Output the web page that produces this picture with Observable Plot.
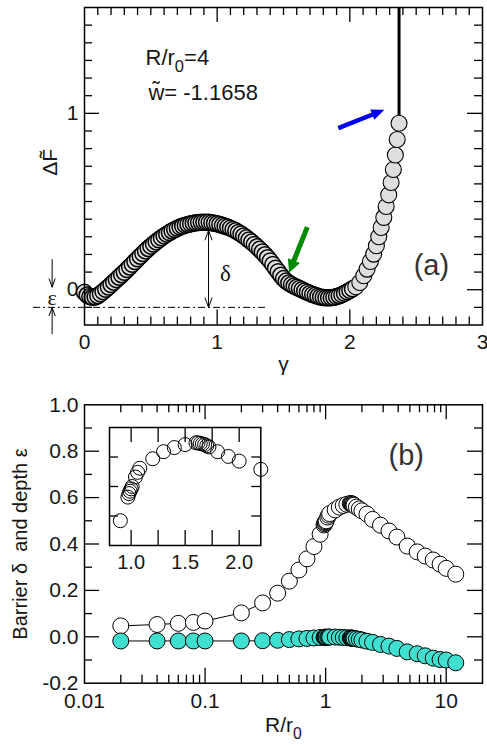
<!DOCTYPE html>
<html><head><meta charset="utf-8">
<script src="https://cdn.jsdelivr.net/npm/d3@7"></script>
<script src="https://cdn.jsdelivr.net/npm/@observablehq/plot@0.6"></script>
<style>
body{margin:0;background:#fff;}
#wrap{position:relative;width:487px;height:745px;overflow:hidden;}
#wrap > div{position:absolute;}
svg text{white-space:pre;}
</style></head><body>
<div id="wrap"><div id="panelA" style="left:0;top:0"></div><div id="panelB" style="left:0;top:375px"></div><div id="panelI" style="left:96.7px;top:422.3px"></div></div>
<script>
// ---------- panel (a): free energy profile ----------
const gammaA = [0.00,0.02,0.04,0.06,0.08,0.10,0.12,0.14,0.16,0.18,0.20,0.22,0.24,0.26,0.28,0.30,0.32,0.34,0.36,0.38,0.40,0.42,0.44,0.46,0.48,0.50,0.52,0.54,0.56,0.58,0.60,0.62,0.64,0.66,0.68,0.70,0.72,0.74,0.76,0.78,0.80,0.82,0.84,0.86,0.88,0.90,0.92,0.94,0.96,0.98,1.00,1.02,1.04,1.06,1.08,1.10,1.12,1.14,1.16,1.18,1.20,1.22,1.24,1.26,1.28,1.30,1.32,1.34,1.36,1.38,1.40,1.42,1.44,1.46,1.48,1.50,1.52,1.54,1.56,1.58,1.60,1.62,1.64,1.66,1.68,1.70,1.72,1.74,1.76,1.78,1.80,1.82,1.84,1.86,1.88,1.90,1.92,1.94,1.96,1.98,2.00,2.02,2.045,2.075,2.105,2.13,2.155,2.18,2.2,2.218,2.236,2.256,2.274,2.293,2.311,2.328,2.343,2.357,2.371];
const freeA = [-0.015,-0.030,-0.039,-0.043,-0.041,-0.034,-0.023,-0.011,0.002,0.015,0.029,0.043,0.057,0.071,0.085,0.099,0.114,0.129,0.144,0.160,0.175,0.190,0.205,0.220,0.234,0.247,0.259,0.271,0.283,0.294,0.305,0.315,0.324,0.333,0.341,0.348,0.355,0.361,0.366,0.370,0.374,0.377,0.379,0.381,0.382,0.383,0.383,0.382,0.380,0.377,0.374,0.370,0.365,0.360,0.355,0.349,0.342,0.334,0.325,0.316,0.305,0.294,0.282,0.270,0.257,0.243,0.229,0.214,0.198,0.181,0.163,0.143,0.122,0.102,0.082,0.063,0.049,0.038,0.029,0.021,0.014,0.007,0.000,-0.007,-0.014,-0.021,-0.027,-0.032,-0.037,-0.041,-0.044,-0.046,-0.046,-0.045,-0.043,-0.039,-0.034,-0.028,-0.020,-0.012,-0.004,0.005,0.017,0.041,0.079,0.117,0.160,0.202,0.249,0.300,0.353,0.410,0.472,0.538,0.608,0.682,0.764,0.852,0.944];
const topXLabels = [0,1,2,3];
const topYLabels = [0,1];
const topXMajor = [1,2];
const topXMinor = [0.1,0.2,0.3,0.4,0.5,0.6,0.7,0.8,0.9,1.1,1.2,1.3,1.4,1.5,1.6,1.7,1.8,1.9,2.1,2.2,2.3,2.4,2.5,2.6,2.7,2.8,2.9];
const topYMajor = [0,1];
const topYMinor = [-0.1,0.1,0.2,0.3,0.4,0.5,0.6,0.7,0.8,0.9,1.1,1.2,1.3,1.4,1.5];
const paramText = ["R/r₀=4", "w\u0303= -1.1658"];
const epsLevel = -0.1;            // dash-dot reference level
const dashSpan = [-0.384, 1.364];  // gamma extent of dash-dot line
const deltaX = 0.935, deltaTop = 0.336;
const epsX = -0.244;
const blueArrow = [[1.917,0.913],[2.264,1.017]];
const greenArrow = [[1.683,0.352],[1.546,0.094]];

// ---------- panel (b): barrier and depth vs R/r0 ----------
const ratioB = [0.02,0.04,0.06,0.08,0.1,0.2,0.3,0.4,0.5,0.6,0.7,0.8,0.9,0.97,0.98,0.99,1.0,1.01,1.04,1.06,1.08,1.2,1.3,1.4,1.5,1.6,1.62,1.64,1.66,1.68,1.70,1.72,1.8,1.9,2.0,2.2,2.45,2.85,3.35,3.9,4.75,5.75,6.7,7.8,8.9,10,12];
const barrierB = [0.047,0.053,0.058,0.062,0.068,0.103,0.146,0.188,0.240,0.288,0.336,0.389,0.442,0.482,0.488,0.492,0.496,0.500,0.516,0.524,0.531,0.547,0.559,0.566,0.571,0.574,0.574,0.573,0.572,0.571,0.569,0.567,0.559,0.551,0.543,0.529,0.506,0.481,0.456,0.430,0.391,0.366,0.348,0.331,0.313,0.295,0.270];
const depthB = [-0.018,-0.018,-0.018,-0.018,-0.018,-0.018,-0.017,-0.015,-0.012,-0.009,-0.007,-0.005,-0.003,-0.002,-0.002,-0.002,-0.002,-0.002,-0.002,-0.001,-0.001,-0.001,-0.002,-0.003,-0.004,-0.005,-0.005,-0.006,-0.006,-0.006,-0.007,-0.007,-0.009,-0.011,-0.014,-0.019,-0.024,-0.033,-0.040,-0.050,-0.065,-0.073,-0.082,-0.092,-0.098,-0.100,-0.112];
const botXLabels = [0.01,0.1,1,10];
const botYLabels = [-0.2,0,0.2,0.4,0.6,0.8,1.0];
const botXMajor = [0.1,1,10];
const botXMinor = [0.02,0.03,0.04,0.05,0.06,0.07,0.08,0.09,0.2,0.3,0.4,0.5,0.6,0.7,0.8,0.9,2,3,4,5,6,7,8,9];
const botYMajor = [0,0.2,0.4,0.6,0.8];
const botYMinor = [-0.1,0.1,0.3,0.5,0.7,0.9];
const insXLabels = [1.0,1.5,2.0];
const insXTicks = [1,1.25,1.5,1.75,2];
const insYTicks = [0.45,0.5,0.55];

const SANS = '"Liberation Sans", Arial, Helvetica, sans-serif';
const SERIF = '"Liberation Serif", "Times New Roman", serif';
const INK = "#161616";
const TICKFS = 21;

function boxTicks(xMaj, xMin, yMaj, yMin, fw, fh, maj, min, majY, minY, sw) {
  const o = {stroke: "black", strokeWidth: sw};
  return [
    Plot.ruleX(xMaj, {x: d => d, insetBottom: fh - maj, ...o}),
    Plot.ruleX(xMaj, {x: d => d, insetTop: fh - maj, ...o}),
    Plot.ruleX(xMin, {x: d => d, insetBottom: fh - min, ...o}),
    Plot.ruleX(xMin, {x: d => d, insetTop: fh - min, ...o}),
    Plot.ruleY(yMaj, {y: d => d, insetRight: fw - majY, ...o}),
    Plot.ruleY(yMaj, {y: d => d, insetLeft: fw - majY, ...o}),
    Plot.ruleY(yMin, {y: d => d, insetRight: fw - minY, ...o}),
    Plot.ruleY(yMin, {y: d => d, insetLeft: fw - minY, ...o})
  ];
}

function subscriptify(svg) {
  const ns = "http://www.w3.org/2000/svg";
  svg.querySelectorAll("text").forEach(t => {
    if (t.children.length) return;
    const s = t.textContent;
    if (!s.includes("₀")) return;
    const fs = parseFloat(getComputedStyle(t).fontSize) || 20;
    const parts = s.split("₀");
    t.textContent = "";
    const shift = fs * 0.3;
    parts.forEach((p, i) => {
      if (i > 0) {
        const sub = document.createElementNS(ns, "tspan");
        sub.textContent = "0";
        sub.setAttribute("dy", shift);
        sub.setAttribute("font-size", fs * 0.75);
        t.appendChild(sub);
      }
      if (p) {
        const a = document.createElementNS(ns, "tspan");
        a.textContent = p;
        if (i > 0) a.setAttribute("dy", -shift);
        t.appendChild(a);
      }
    });
  });
}

function fatArrow(svg, seg, color, w, len, wid) {
  const sx = svg.scale("x"), sy = svg.scale("y");
  const x1 = sx.apply(seg[0][0]), y1 = sy.apply(seg[0][1]);
  const x2 = sx.apply(seg[1][0]), y2 = sy.apply(seg[1][1]);
  const dx = x2 - x1, dy = y2 - y1, L = Math.hypot(dx, dy);
  const ux = dx / L, uy = dy / L, px = -uy, py = ux;
  const bx = x2 - ux * len, by = y2 - uy * len;
  const g = d3.select(svg).append("g");
  g.append("line").attr("x1", x1).attr("y1", y1).attr("x2", bx + ux).attr("y2", by + uy)
    .attr("stroke", color).attr("stroke-width", w);
  g.append("path").attr("d", `M${x2},${y2}L${bx + px * wid / 2},${by + py * wid / 2}L${bx - px * wid / 2},${by - py * wid / 2}Z`)
    .attr("fill", color);
}

// ---------- build panel (a) ----------
const topData = gammaA.map((g, i) => ({g, F: freeA[i]}));
const lastPt = topData[topData.length - 1];
const TW = 487, TH = 375, TML = 84, TMR = 5, TMT = 7, TMB = 50.5;
const tfw = TW - TML - TMR, tfh = TH - TMT - TMB;
const deltaMid = (deltaTop + epsLevel) / 2;

const plotA = Plot.plot({
  width: TW, height: TH, marginLeft: TML, marginRight: TMR, marginTop: TMT, marginBottom: TMB,
  x: {domain: [0, 3], axis: null}, y: {domain: [-0.2, 1.6], axis: null},
  style: {fontFamily: SANS, fontSize: "20px", background: "transparent", overflow: "visible", color: INK},
  marks: [
    ...boxTicks(topXMajor, topXMinor, topYMajor, topYMinor, tfw, tfh, 15, 8, 15, 8, 1.3),
    Plot.axisX({ticks: topXLabels, tickSize: 0, tickPadding: 9, label: null, fontSize: TICKFS, tickFormat: d => String(d)}),
    Plot.axisY({ticks: topYLabels, tickSize: 0, tickPadding: 6, label: null, fontSize: TICKFS, tickFormat: d => String(d)}),
    Plot.ruleY([epsLevel], {x1: dashSpan[0], x2: dashSpan[1], stroke: "black", strokeWidth: 1, strokeDasharray: "7,3,2,3"}),
    Plot.arrow([{y1: deltaMid, y2: deltaTop}, {y1: deltaMid, y2: epsLevel}], {x1: deltaX, x2: deltaX, y1: "y1", y2: "y2", stroke: "black", strokeWidth: 1, headAngle: 40, headLength: 15}),
    Plot.arrow([{y1: 0.17, y2: 0.015}, {y1: -0.25, y2: -0.101}], {x1: epsX, x2: epsX, y1: "y1", y2: "y2", stroke: "black", strokeWidth: 1, headAngle: 40, headLength: 13}),
    Plot.ruleX([lastPt], {x: "g", y1: "F", y2: 1.6, stroke: "black", strokeWidth: 3}),
    Plot.dot(topData, {x: "g", y: "F", r: 8, fill: "#dedede", stroke: "black", strokeWidth: d => d.g <= 2.03 ? 1.5 : 1.1}),
    Plot.frame({stroke: "black", strokeWidth: 1.5}),
    Plot.text([paramText[0]], {x: 0.46, y: 1.272, textAnchor: "start", lineAnchor: "bottom", fontSize: 22}),
    Plot.text([paramText[1]], {x: 0.482, y: 1.073, textAnchor: "start", lineAnchor: "bottom", fontSize: 22}),
    Plot.text(["(a)"], {x: 2.615, y: 0.138, lineAnchor: "middle", fontSize: 29, fill: "#333"}),
    Plot.text(["δ"], {x: 1.063, y: 0.092, lineAnchor: "middle", fontSize: 23, fontFamily: SERIF}),
    Plot.text(["ε"], {x: epsX, y: -0.048, lineAnchor: "middle", fontSize: 22, fontFamily: SERIF}),
    Plot.text(["γ"], {x: 1.5, y: -0.2, dy: 39.5, lineAnchor: "middle", fontSize: 21}),
    Plot.text(["ΔF\u0303"], {frameAnchor: "left", textAnchor: "middle", rotate: -90, dx: -27.3, dy: -4, lineAnchor: "bottom", fontSize: 21})
  ]
});
fatArrow(plotA, blueArrow, "#0000f0", 4.5, 13, 11);
fatArrow(plotA, greenArrow, "#008a00", 5, 13, 13);
document.getElementById("panelA").appendChild(plotA);
subscriptify(plotA);

// ---------- build panel (b) ----------
const barrier = ratioB.map((R, i) => ({R, v: barrierB[i]}));
const depth = ratioB.map((R, i) => ({R, v: depthB[i]}));
const BW = 487, BH = 370, BML = 84, BMR = 5, BMT = 29.3, BMB = 62.3;
const bfw = BW - BML - BMR, bfh = BH - BMT - BMB;
const plotB = Plot.plot({
  width: BW, height: BH, marginLeft: BML, marginRight: BMR, marginTop: BMT, marginBottom: BMB,
  x: {type: "log", domain: [0.01, 20], axis: null}, y: {domain: [-0.2, 1.0], axis: null},
  style: {fontFamily: SANS, fontSize: "20px", background: "transparent", overflow: "visible", color: INK},
  marks: [
    ...boxTicks(botXMajor, botXMinor, botYMajor, botYMinor, bfw, bfh, 15, 8, 15, 8, 1.3),
    Plot.axisX({ticks: botXLabels, tickSize: 0, tickPadding: 10, label: null, fontSize: TICKFS, tickFormat: d => String(d)}),
    Plot.axisY({ticks: botYLabels, tickSize: 0, tickPadding: 6, label: null, fontSize: TICKFS, tickFormat: d => d.toFixed(1)}),
    Plot.line(barrier, {x: "R", y: "v", stroke: "black", strokeWidth: 1}),
    Plot.dot(barrier, {x: "R", y: "v", r: 8, fill: "white", stroke: "black", strokeWidth: 1}),
    Plot.line(depth, {x: "R", y: "v", stroke: "black", strokeWidth: 1}),
    Plot.dot(depth, {x: "R", y: "v", r: 8, fill: "#40e0d0", stroke: "black", strokeWidth: 1}),
    Plot.frame({stroke: "black", strokeWidth: 1.5}),
    Plot.text(["(b)"], {x: 4.66, y: 0.78, lineAnchor: "middle", fontSize: 29, fill: "#333"}),
    Plot.text(["R/r₀"], {x: 0.447, y: -0.2, dy: 49, lineAnchor: "bottom", fontSize: 21}),
    Plot.text(["Barrier δ  and depth ε"], {frameAnchor: "left", textAnchor: "middle", rotate: -90, dx: -64, lineAnchor: "middle", fontSize: 20})
  ]
});
document.getElementById("panelB").appendChild(plotB);
subscriptify(plotB);

// ---------- inset ----------
const insetData = barrier.filter(d => d.R >= 0.85 && d.R <= 2.25);
const IW = 175.3, IH = 151, IML = 12, IMR = 12, IMT = 5, IMB = 28;
const ifw = IW - IML - IMR, ifh = IH - IMT - IMB;
const plotI = Plot.plot({
  width: IW, height: IH, marginLeft: IML, marginRight: IMR, marginTop: IMT, marginBottom: IMB,
  x: {domain: [0.8, 2.2], axis: null}, y: {domain: [0.4, 0.6], axis: null},
  style: {fontFamily: SANS, fontSize: "20px", background: "transparent", overflow: "visible", color: INK},
  marks: [
    ...boxTicks(insXTicks, [], insYTicks, [], ifw, ifh, 15, 8, 9, 9, 1.3),
    Plot.axisX({ticks: insXLabels, tickSize: 0, tickPadding: 9, label: null, fontSize: 20, tickFormat: d => d.toFixed(1)}),
    Plot.dot(insetData, {x: "R", y: "v", r: 7, fill: "none", stroke: "black", strokeWidth: 1}),
    Plot.frame({stroke: "black", strokeWidth: 1.5})
  ]
});
document.getElementById("panelI").appendChild(plotI);
</script>
</body></html>
